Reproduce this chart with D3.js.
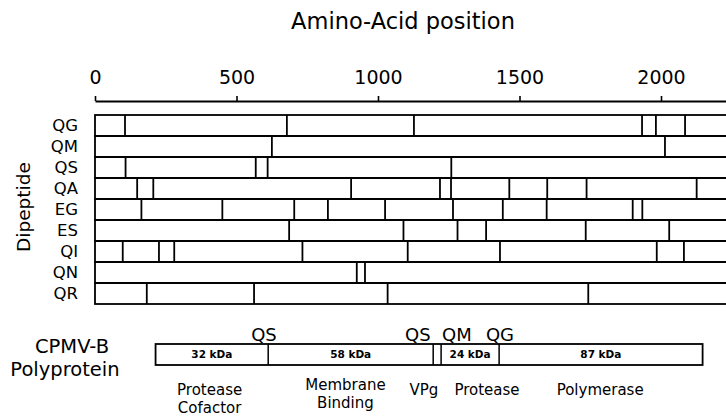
<!DOCTYPE html>
<html>
<head>
<meta charset="utf-8">
<script src="https://cdn.jsdelivr.net/npm/d3@7"></script>
<style>
  html, body { margin: 0; padding: 0; background: #fff; }
  svg { display: block; font-family: "DejaVu Sans", sans-serif; }
</style>
</head>
<body>
<script>
// ---------- data ----------
const dipeptides = ["QG", "QM", "QS", "QA", "EG", "ES", "QI", "QN", "QR"];
const qgSites = [106, 678, 1127, 1933, 1982, 2085];
const qmSites = [625, 2014];
const qsSites = [108, 568, 610, 1259];
const qaSites = [149, 206, 905, 1219, 1258, 1464, 1598, 1737, 2126];
const egSites = [164, 450, 704, 823, 1025, 1265, 1441, 1596, 1900, 1934];
const esSites = [686, 1090, 1281, 1382, 1734, 2029];
const qiSites = [98, 226, 280, 733, 1105, 1431, 1985, 2081];
const qnSites = [925, 954];
const qrSites = [183, 562, 1034, 1743];
const siteLists = [qgSites, qmSites, qsSites, qaSites, egSites, esSites, qiSites, qnSites, qrSites];

const tickValues = [0, 500, 1000, 1500, 2000];

// CPMV-B polyprotein schematic
const polyBounds = [214, 612, 1195, 1223, 1428, 2147];
const polyKda = ["32 kDa", "58 kDa", "24 kDa", "87 kDa"];
const kdaSegments = [0, 1, 3, 4];
const cleavageLabels = ["QS", "QS", "QM", "QG"];
const cleavageLabelPos = [597, 1141, 1279, 1431];
const domainNames = [["Protease", "Cofactor"], ["Membrane", "Binding"], ["VPg"], ["Protease"], ["Polymerase"]];
const domainPos = [405, 885, 1162, 1385, 1785];

// ---------- layout ----------
const W = 726, H = 417;
const x = d3.scaleLinear().domain([0, 2000]).range([95, 661]);
const xEnd = 2300;
const y = d3.scaleBand().domain(dipeptides).range([115, 304]).padding(0);
const LW = 1.8;

const svg = d3.select("body").append("svg").attr("width", W).attr("height", H);

// title
svg.append("text")
  .attr("x", 403).attr("y", 29)
  .attr("text-anchor", "middle")
  .attr("font-size", 22.5)
  .text("Amino-Acid position");

// top axis
const axisScale = d3.scaleLinear().domain([0, xEnd]).range([x(0), x(xEnd)]);
const axisG = svg.append("g")
  .attr("transform", "translate(0,101)")
  .call(d3.axisTop(axisScale).tickValues(tickValues).tickSizeInner(5).tickSizeOuter(0).tickPadding(12).tickFormat(d3.format("d")));
axisG.select(".domain").attr("stroke", "#000").attr("stroke-width", 2);
axisG.selectAll(".tick line").attr("stroke", "#000").attr("stroke-width", 1.6);
axisG.selectAll(".tick text").attr("font-size", 19).attr("font-family", "DejaVu Sans, sans-serif").attr("fill", "#000");

// rows
const rowsG = svg.append("g");
dipeptides.forEach((d, i) => {
  const y0 = y(d), h = y.bandwidth();
  rowsG.append("rect")
    .attr("x", x(0)).attr("y", y0)
    .attr("width", x(xEnd) - x(0)).attr("height", h)
    .attr("fill", "none").attr("stroke", "#000").attr("stroke-width", LW);
  rowsG.selectAll(null).data(siteLists[i]).enter().append("line")
    .attr("x1", s => x(s)).attr("x2", s => x(s))
    .attr("y1", y0).attr("y2", y0 + h)
    .attr("stroke", "#000").attr("stroke-width", LW);
  svg.append("text")
    .attr("x", 78).attr("y", y0 + h / 2)
    .attr("dy", "0.36em")
    .attr("text-anchor", "end")
    .attr("font-size", 16.5)
    .text(d);
});

// y-axis title
svg.append("text")
  .attr("transform", "translate(30,207) rotate(-90)")
  .attr("text-anchor", "middle")
  .attr("font-size", 18.5)
  .text("Dipeptide");

// polyprotein bar
const pTop = 344, pH = 21;
const polyG = svg.append("g");
polyG.append("rect")
  .attr("x", x(polyBounds[0])).attr("y", pTop)
  .attr("width", x(polyBounds[polyBounds.length - 1]) - x(polyBounds[0])).attr("height", pH)
  .attr("fill", "none").attr("stroke", "#000").attr("stroke-width", LW);
polyG.selectAll(null).data(polyBounds.slice(1, -1)).enter().append("line")
  .attr("x1", d => x(d)).attr("x2", d => x(d))
  .attr("y1", pTop).attr("y2", pTop + pH)
  .attr("stroke", "#000").attr("stroke-width", 1.5);
polyG.selectAll(null).data(polyKda).enter().append("text")
  .attr("x", (d, i) => (x(polyBounds[kdaSegments[i]]) + x(polyBounds[kdaSegments[i] + 1])) / 2)
  .attr("y", pTop + pH / 2)
  .attr("dy", "0.36em")
  .attr("text-anchor", "middle")
  .attr("font-size", 10.5).attr("font-weight", "bold")
  .text(d => d);
polyG.selectAll(null).data(cleavageLabels).enter().append("text")
  .attr("x", (d, i) => x(cleavageLabelPos[i])).attr("y", pTop - 3)
  .attr("text-anchor", "middle")
  .attr("font-size", 18)
  .text(d => d);
domainNames.forEach((lines, i) => {
  const t = svg.append("text")
    .attr("text-anchor", "middle")
    .attr("font-size", 15);
  const y0 = lines.length === 2 ? (i === 1 ? 390 : 395) : 395;
  lines.forEach((ln, j) => {
    t.append("tspan").attr("x", x(domainPos[i])).attr("y", y0 + j * 17.6).text(ln);
  });
});

// polyprotein label
svg.append("text").attr("x", 72).attr("y", 353).attr("text-anchor", "middle").attr("font-size", 19.5).text("CPMV-B");
svg.append("text").attr("x", 65).attr("y", 376).attr("text-anchor", "middle").attr("font-size", 19.5).text("Polyprotein");
</script>
</body>
</html>
